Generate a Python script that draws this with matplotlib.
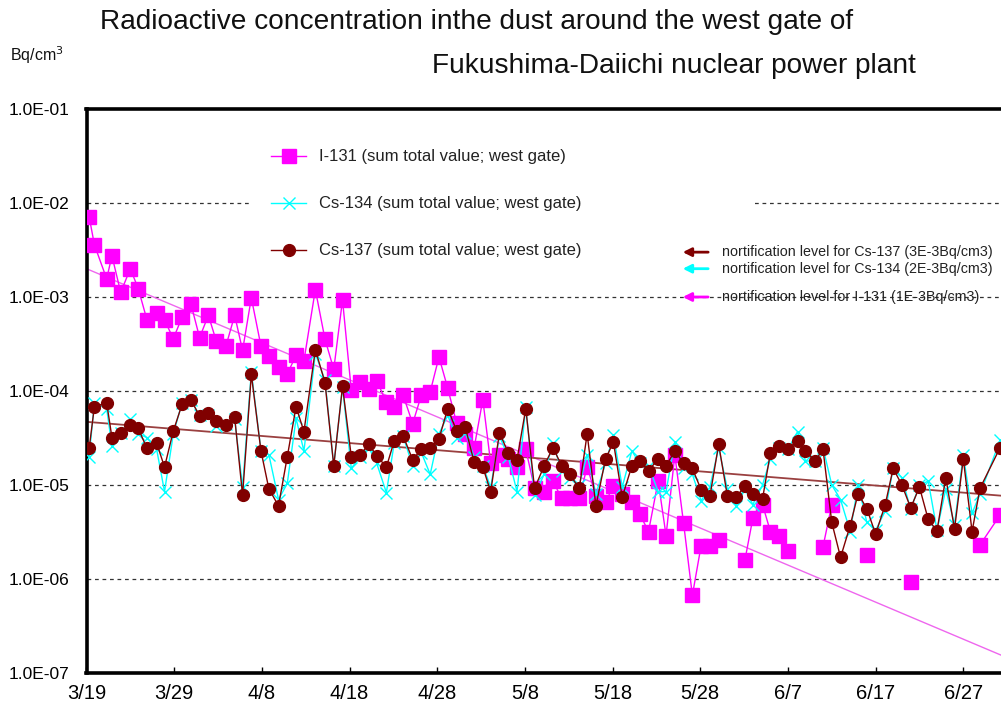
import datetime as dt
import numpy as np
import matplotlib
matplotlib.use("Agg")
import matplotlib.pyplot as plt
from matplotlib.lines import Line2D
from matplotlib.patches import Rectangle

plt.rcParams['font.family'] = ['Liberation Sans', 'DejaVu Sans']

# ---------------- data ----------------
base_date = dt.datetime(2011, 3, 19)

# sampling time, days after 3/19
days = [0.3, 0.9, 2.3, 2.9, 3.9, 5.0, 5.9, 6.9, 8.0, 8.9,
        9.9, 10.9, 11.9, 12.9, 13.9, 14.8, 15.9, 16.9, 17.8, 18.8,
        19.9, 20.8, 21.9, 22.9, 23.9, 24.8, 26.1, 27.2, 28.2, 29.2,
        30.2, 31.2, 32.2, 33.1, 34.2, 35.1, 36.1, 37.2, 38.2, 39.2,
        40.2, 41.2, 42.2, 43.2, 44.2, 45.2, 46.1, 47.1, 48.1, 49.1,
        50.1, 51.1, 52.2, 53.2, 54.2, 55.1, 56.2, 57.1, 58.1, 59.2,
        60.1, 61.1, 62.2, 63.1, 64.1, 65.2, 66.1, 67.1, 68.1, 69.1,
        70.1, 71.1, 72.1, 73.1, 74.1, 75.1, 76.0, 77.1, 78.0, 79.0,
        80.0, 81.1, 82.0, 83.1, 84.0, 85.0, 86.0, 87.1, 88.0, 89.0,
        90.0, 91.1, 92.0, 93.0, 94.0, 95.0, 96.0, 97.0, 98.0, 99.0,
        100.0, 101.0, 101.9, 104.2]

nan = float('nan')
i131 = [7.15e-3, 3.6e-3, 1.56e-3, 2.75e-3, 1.12e-3, 2.0e-3, 1.23e-3, 5.7e-4, 6.7e-4, 5.7e-4,
        3.6e-4, 6.1e-4, 8.5e-4, 3.7e-4, 6.4e-4, 3.4e-4, 3.0e-4, 6.4e-4, 2.7e-4, 9.8e-4,
        3.0e-4, 2.34e-4, 1.82e-4, 1.52e-4, 2.4e-4, 2.1e-4, 1.2e-3, 3.55e-4, 1.7e-4, 9.3e-4,
        1.02e-4, 1.26e-4, 1.04e-4, 1.29e-4, 7.6e-5, 6.8e-5, 9.1e-5, 4.5e-5, 9.1e-5, 9.8e-5,
        2.3e-4, 1.07e-4, 4.6e-5, 3.5e-5, 2.45e-5, 8.1e-5, 1.7e-5, 2.1e-5, 1.9e-5, 1.57e-5,
        2.4e-5, 9.2e-6, 8.5e-6, 1.1e-5, 7.2e-6, 7.2e-6, 7.2e-6, 1.57e-5, 7.6e-6, 6.6e-6,
        9.8e-6, 8.1e-6, 6.6e-6, 4.9e-6, 3.2e-6, 1.1e-5, 2.9e-6, 2.1e-5, 3.9e-6, 6.7e-7,
        2.27e-6, 2.27e-6, 2.6e-6, nan, nan, 1.6e-6, 4.45e-6, 6.2e-6, 3.2e-6, 2.9e-6,
        2.0e-6, nan, nan, nan, 2.2e-6, 6.2e-6, nan, nan, nan, 1.8e-6,
        nan, nan, nan, nan, 9.4e-7, nan, nan, nan, nan, nan,
        nan, nan, 2.3e-6, 4.8e-6]

cs134 = [2.0e-5, 7.5e-5, 6.5e-5, 2.6e-5, 3.6e-5, 5.0e-5, 3.5e-5, 3.2e-5, 2.4e-5, 8.5e-6,
         3.5e-5, 7.5e-5, 8.0e-5, 5.5e-5, 5.5e-5, 4.2e-5, 4.5e-5, 5.0e-5, 9.5e-6, 1.6e-4,
         2.3e-5, 2.1e-5, 7.0e-6, 1.04e-5, 5.1e-5, 2.3e-5, 2.5e-4, 1.3e-4, 1.6e-5, 1.1e-4,
         1.5e-5, 2.0e-5, 2.5e-5, 1.7e-5, 8.3e-6, 2.8e-5, 3.3e-5, 1.6e-5, 2.2e-5, 1.3e-5,
         3.5e-5, 5.5e-5, 3.2e-5, 3.6e-5, 2.0e-5, 1.6e-5, 9.5e-6, 3.3e-5, 2.0e-5, 8.5e-6,
         6.8e-5, 7.8e-6, 1.3e-5, 2.8e-5, 1.4e-5, 1.2e-5, 1.0e-5, 2.1e-5, 8.0e-6, 1.7e-5,
         3.4e-5, 9.5e-6, 2.3e-5, 1.7e-5, 1.6e-5, 8.5e-6, 8.5e-6, 2.9e-5, 1.5e-5, 1.3e-5,
         6.8e-6, 9.5e-6, 2.5e-5, 9.0e-6, 6.0e-6, 9.0e-6, 6.2e-6, 1.0e-5, 1.9e-5, 2.5e-5,
         2.4e-5, 3.7e-5, 1.8e-5, 1.8e-5, 2.5e-5, 1.0e-5, 7.0e-6, 3.2e-6, 1.0e-5, 4.0e-6,
         3.3e-6, 5.3e-6, 1.5e-5, 1.2e-5, 5.5e-6, 1.0e-5, 1.1e-5, 3.3e-6, 9.0e-6, 3.8e-6,
         2.1e-5, 5.0e-6, 8.0e-6, 3.0e-5]

cs137 = [2.45e-5, 6.8e-5, 7.5e-5, 3.2e-5, 3.6e-5, 4.3e-5, 4.0e-5, 2.45e-5, 2.8e-5, 1.55e-5,
         3.75e-5, 7.2e-5, 8.1e-5, 5.4e-5, 5.8e-5, 4.8e-5, 4.4e-5, 5.25e-5, 7.8e-6, 1.5e-4,
         2.3e-5, 9.1e-6, 6.0e-6, 2.0e-5, 6.8e-5, 3.7e-5, 2.75e-4, 1.23e-4, 1.6e-5, 1.12e-4,
         2.0e-5, 2.1e-5, 2.7e-5, 2.05e-5, 1.55e-5, 2.95e-5, 3.35e-5, 1.86e-5, 2.4e-5, 2.5e-5,
         3.1e-5, 6.5e-5, 3.8e-5, 4.1e-5, 1.77e-5, 1.55e-5, 8.5e-6, 3.6e-5, 2.2e-5, 1.86e-5,
         6.5e-5, 9.2e-6, 1.6e-5, 2.5e-5, 1.6e-5, 1.3e-5, 9.2e-6, 3.5e-5, 6.0e-6, 1.9e-5,
         2.85e-5, 7.4e-6, 1.6e-5, 1.82e-5, 1.41e-5, 1.9e-5, 1.6e-5, 2.3e-5, 1.7e-5, 1.5e-5,
         8.9e-6, 7.6e-6, 2.7e-5, 7.6e-6, 7.4e-6, 9.8e-6, 8.0e-6, 7.1e-6, 2.2e-5, 2.6e-5,
         2.4e-5, 2.95e-5, 2.3e-5, 1.8e-5, 2.4e-5, 4.0e-6, 1.7e-6, 3.7e-6, 8.1e-6, 5.6e-6,
         3.0e-6, 6.2e-6, 1.5e-5, 1.0e-5, 5.7e-6, 9.5e-6, 4.3e-6, 3.25e-6, 1.2e-5, 3.4e-6,
         1.9e-5, 3.2e-6, 9.2e-6, 2.5e-5]

# exponential trend lines (value at start and end of the time axis)
trend_days = [0.0, 104.3]
i131_trend = [2.0e-3, 1.55e-7]
cs137_trend = [4.7e-5, 7.7e-6]

tick_labels = ["3/19", "3/29", "4/8", "4/18", "4/28", "5/8",
               "5/18", "5/28", "6/7", "6/17", "6/27"]
ytick_values = [1e-1, 1e-2, 1e-3, 1e-4, 1e-5, 1e-6, 1e-7]

series_labels = ["I-131 (sum total value; west gate)",
                 "Cs-134 (sum total value; west gate)",
                 "Cs-137 (sum total value; west gate)"]

notif_labels = ["nortification level for Cs-137 (3E-3Bq/cm3)",
                "nortification level for Cs-134 (2E-3Bq/cm3)",
                "nortification level for I-131 (1E-3Bq/cm3)"]
notif_levels = [3e-3, 2e-3, 1e-3]

# ---------------- styles ----------------
C_I = '#FF00FF'
C_134 = '#00FFFF'
C_137 = '#800000'
notif_colors = [C_137, C_134, C_I]


def to_dates(ds):
    return [base_date + dt.timedelta(days=d) for d in ds]


x = to_dates(days)

fig = plt.figure(figsize=(10.01, 7.08), dpi=100)
ax = fig.add_axes([86.5 / 1001, 35 / 708, (1001 - 86.5) / 1001, 564 / 708])
ax.set_yscale('log')
ax.set_ylim(1e-7, 1e-1)
ax.set_xlim(base_date, base_date + dt.timedelta(days=trend_days[1]))

# gridlines
for v in ytick_values[1:-1]:
    ax.axhline(v, color='#333333', lw=0.9, ls=(0, (3, 3)), zorder=1)

# white legend background hiding the gridline behind the legend
ax.add_patch(Rectangle((0.179, 0.81), 0.549, 0.04, transform=ax.transAxes,
                       facecolor='white', edgecolor='none', zorder=1.5))

# trend lines
ax.plot(to_dates(trend_days), i131_trend, color='#EE66EE', lw=1.0, zorder=2)
ax.plot(to_dates(trend_days), cs137_trend, color='#9A4040', lw=1.3, zorder=2)

# series
ax.plot(x, i131, color=C_I, lw=1.0, marker='s', ms=9.5, mfc=C_I, mec=C_I, zorder=3)
ax.plot(x, cs134, color=C_134, lw=1.0, marker='x', ms=8, mew=1.0, zorder=4)
ax.plot(x, cs137, color=C_137, lw=1.0, marker='o', ms=8.5, mfc=C_137, mec=C_137, zorder=5)

# notification arrows (at the level values)
for lab, lev, col in zip(notif_labels, notif_levels, notif_colors):
    ax.annotate("", xy=(base_date + dt.timedelta(days=68.0), lev),
                xytext=(base_date + dt.timedelta(days=70.9), lev),
                arrowprops=dict(arrowstyle='-|>,head_length=0.5,head_width=0.25',
                                color=col, lw=2.0, shrinkA=0, shrinkB=0), zorder=6)
    ax.text(base_date + dt.timedelta(days=72.5), lev, lab, fontsize=10.3,
            va='center', ha='left', color='#222222', zorder=6)

# legend
handles = [Line2D([], [], color=C_I, lw=1.0, marker='s', ms=9.5, mfc=C_I, mec=C_I),
           Line2D([], [], color=C_134, lw=1.0, marker='x', ms=8, mew=1.0),
           Line2D([], [], color=C_137, lw=1.0, marker='o', ms=8.5, mfc=C_137, mec=C_137)]
leg = ax.legend(handles, series_labels, loc='upper left',
                bbox_to_anchor=(0.189, 0.949),
                frameon=False, fontsize=12, labelspacing=1.92,
                handlelength=2.1, handletextpad=0.8, borderpad=0.7,
                borderaxespad=0)
leg.set_zorder(7)
for t in leg.get_texts():
    t.set_color('#222222')

# axes styling
for s in ['left', 'bottom', 'top']:
    ax.spines[s].set_linewidth(2.6)
    ax.spines[s].set_color('black')
ax.spines['right'].set_visible(False)

ax.set_xticks(to_dates([10 * i for i in range(len(tick_labels))]))
ax.set_xticklabels(tick_labels, fontsize=14.5)
ax.tick_params(axis='x', direction='in', length=4, width=1, pad=8, top=False)
ax.set_yticks(ytick_values)
ax.set_yticklabels(["%.1E" % v for v in ytick_values], fontsize=12.5)
ax.tick_params(axis='y', which='both', length=0, pad=12)
ax.minorticks_off()

# titles
fig.text(477 / 1001, 1 - 22 / 708,
         "Radioactive concentration inthe dust around the west gate of",
         ha='center', va='center', fontsize=20.2, color='#111111')
fig.text(674 / 1001, 1 - 66 / 708,
         "Fukushima-Daiichi nuclear power plant",
         ha='center', va='center', fontsize=20.2, color='#111111')
fig.text(10 / 1001, 1 - 55 / 708, r"Bq/cm$^3$", ha='left', va='center',
         fontsize=11.5, color='#111111')

fig.savefig("out.png", dpi=100)
